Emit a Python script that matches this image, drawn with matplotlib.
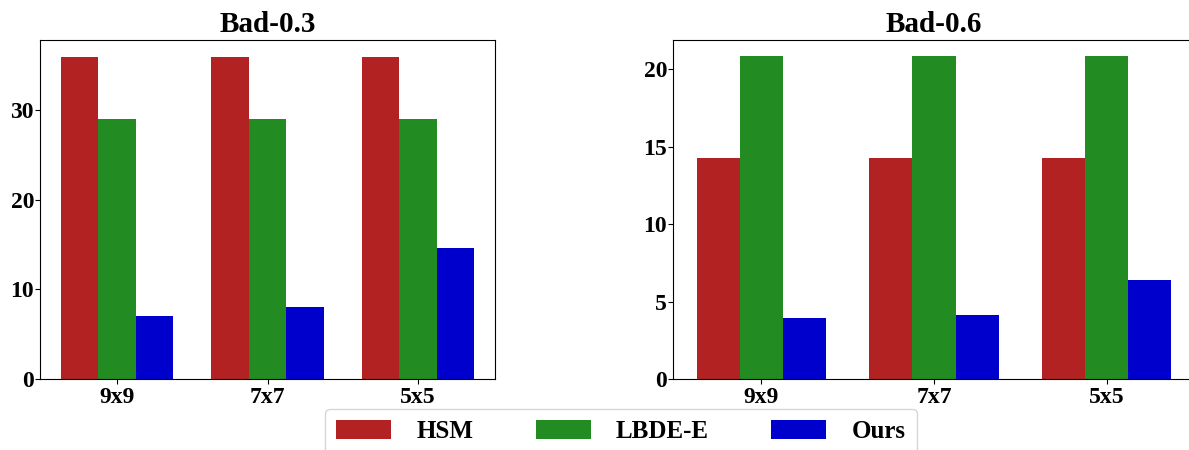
import matplotlib
matplotlib.use("Agg")
import matplotlib.pyplot as plt
import numpy as np

categories = ["9x9", "7x7", "5x5"]
methods = ["HSM", "LBDE-E", "Ours"]
colors = ["#B22222", "#228B22", "#0000CD"]

bad03_hsm = [35.9, 35.9, 35.9]
bad03_lbde = [29.0, 29.0, 29.0]
bad03_ours = [7.0, 8.0, 14.6]

bad06_hsm = [14.25, 14.25, 14.25]
bad06_lbde = [20.85, 20.85, 20.85]
bad06_ours = [3.95, 4.15, 6.4]

plt.rcParams['font.family'] = ['Liberation Serif', 'DejaVu Serif']
plt.rcParams['font.weight'] = 'bold'

fig = plt.figure(figsize=(11.89, 4.5), dpi=100)
ax1 = fig.add_axes([40/1189, 71/450, 455/1189, 339/450])
ax2 = fig.add_axes([673/1189, 71/450, 522/1189, 339/450])

x = np.arange(len(categories))
w = 0.25

def draw(ax, series, title, yticks):
    for i, (vals, c, lab) in enumerate(zip(series, colors, methods)):
        ax.bar(x + (i - 1) * w, vals, w, color=c, label=lab)
    ax.set_xticks(x)
    ax.set_xticklabels(categories, fontsize=17, fontweight='bold')
    ax.set_yticks(yticks)
    ax.set_yticklabels([str(t) for t in yticks], fontsize=17, fontweight='bold')
    ax.set_title(title, fontsize=21, fontweight='bold', pad=6)
    ax.tick_params(axis='x', pad=2)
    ax.tick_params(axis='y', pad=0.8)
    ax.set_xlim(-0.5125, 2.5125)

draw(ax1, [bad03_hsm, bad03_lbde, bad03_ours], "Bad-0.3", [0, 10, 20, 30])
ax1.set_ylim(0, 37.8)
draw(ax2, [bad06_hsm, bad06_lbde, bad06_ours], "Bad-0.6", [0, 5, 10, 15, 20])
ax2.set_ylim(0, 21.9)
ax2.spines['right'].set_visible(False)

handles, labels = ax1.get_legend_handles_labels()
fig.legend(handles, labels, loc='upper center', bbox_to_anchor=(621/1189, 1 - 409/450),
           ncol=3, prop={'family': 'Liberation Serif', 'weight': 'bold', 'size': 18},
           handlelength=2.2, handleheight=0.8, columnspacing=2.5, handletextpad=1.0,
           frameon=True, borderaxespad=0.0, borderpad=0.45)

fig.savefig("out.png", dpi=100)
